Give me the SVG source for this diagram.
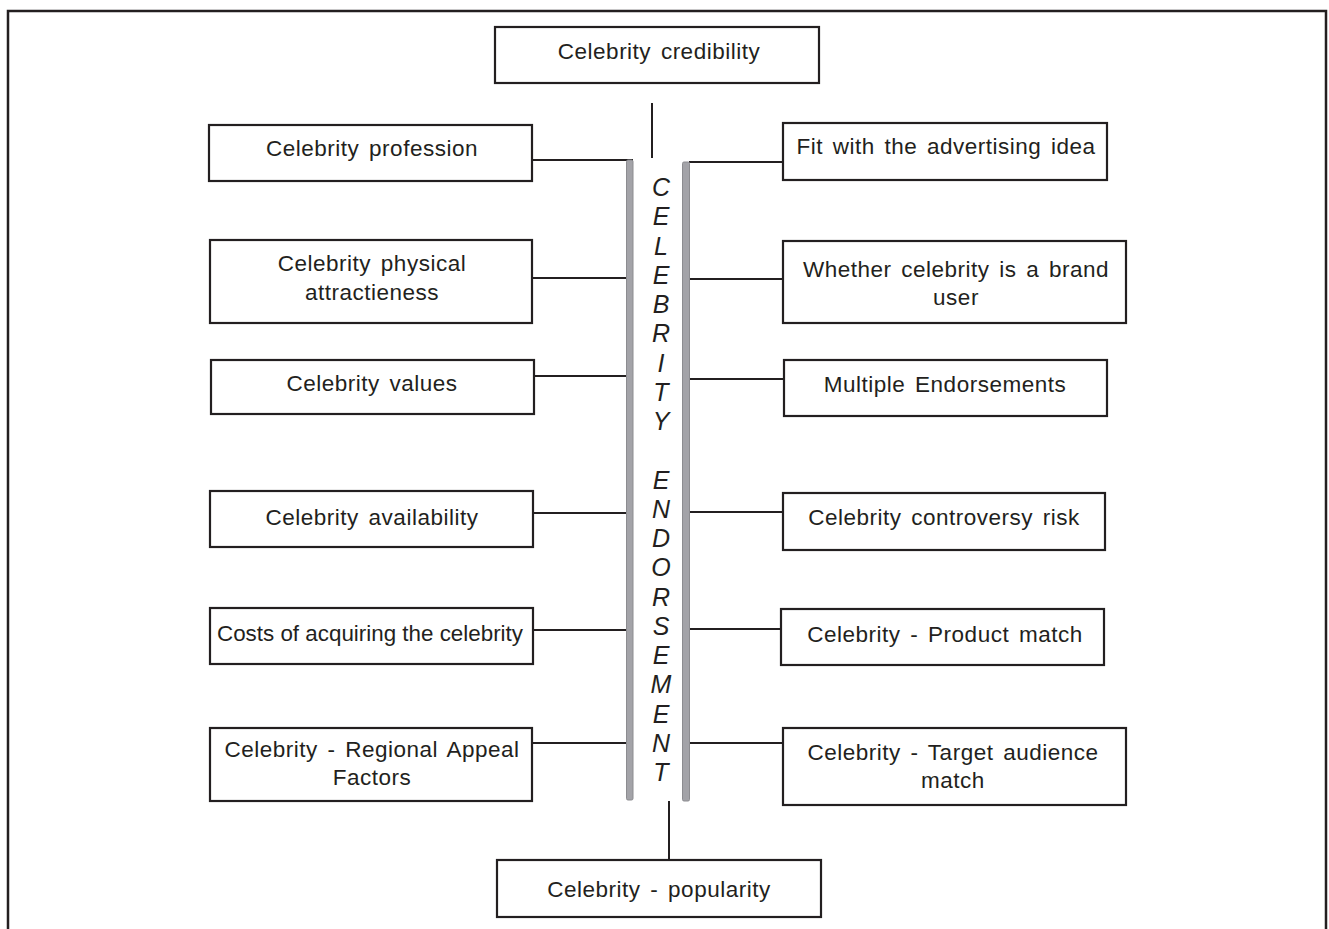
<svg xmlns="http://www.w3.org/2000/svg" width="1329" height="929" viewBox="0 0 1329 929">
<style>
.box{fill:#fff;stroke:#231f20;stroke-width:2.2}
.t{font-family:"Liberation Sans",Arial,sans-serif;font-size:22.5px;fill:#231f20;text-anchor:middle;word-spacing:3px;letter-spacing:0.5px}
.v{font-family:"Liberation Sans",Arial,sans-serif;font-size:25px;font-style:italic;fill:#231f20;text-anchor:middle}
.c{stroke:#231f20;stroke-width:2;fill:none}
.bar{fill:#a3a3a8;stroke:#8c8c90;stroke-width:1}
</style>
<rect width="1329" height="929" fill="#fff"/>
<path d="M8 929 V11 H1326 V929" fill="none" stroke="#231f20" stroke-width="2.5"/>
<g id="connectors">
<line class="c" x1="652" y1="103" x2="652" y2="158"/>
<line class="c" x1="669" y1="801" x2="669" y2="859"/>
<line class="c" x1="532" y1="160" x2="633" y2="160"/>
<line class="c" x1="532" y1="278" x2="627" y2="278"/>
<line class="c" x1="534" y1="376" x2="627" y2="376"/>
<line class="c" x1="533" y1="513" x2="627" y2="513"/>
<line class="c" x1="533" y1="630" x2="627" y2="630"/>
<line class="c" x1="532" y1="743" x2="627" y2="743"/>
<line class="c" x1="689" y1="162" x2="783" y2="162"/>
<line class="c" x1="689" y1="279" x2="783" y2="279"/>
<line class="c" x1="689" y1="379" x2="784" y2="379"/>
<line class="c" x1="689" y1="512" x2="783" y2="512"/>
<line class="c" x1="689" y1="629" x2="781" y2="629"/>
<line class="c" x1="689" y1="743" x2="783" y2="743"/>
</g>
<g id="spine">
<rect class="bar" x="626.5" y="160" width="6.5" height="640" rx="1.5"/>
<rect class="bar" x="682.5" y="162" width="7" height="639" rx="1.5"/>
<g class="v">
<text x="661" y="196">C</text>
<text x="661" y="225.25">E</text>
<text x="661" y="254.5">L</text>
<text x="661" y="283.75">E</text>
<text x="661" y="313">B</text>
<text x="661" y="342.25">R</text>
<text x="661" y="371.5">I</text>
<text x="661" y="400.75">T</text>
<text x="661" y="430">Y</text>
<text x="661" y="488.5">E</text>
<text x="661" y="517.75">N</text>
<text x="661" y="547">D</text>
<text x="661" y="576.25">O</text>
<text x="661" y="605.5">R</text>
<text x="661" y="634.75">S</text>
<text x="661" y="664">E</text>
<text x="661" y="693.25">M</text>
<text x="661" y="722.5">E</text>
<text x="661" y="751.75">N</text>
<text x="661" y="781">T</text>
</g>
</g>
<g id="credibility"><rect class="box" x="495" y="27" width="324" height="56"/><text class="t" x="659" y="59">Celebrity credibility</text></g>
<g id="profession"><rect class="box" x="209" y="125" width="323" height="56"/><text class="t" x="372" y="156">Celebrity profession</text></g>
<g id="physical"><rect class="box" x="210" y="240" width="322" height="83"/><text class="t" x="372" y="271">Celebrity physical</text><text class="t" x="372" y="300">attractieness</text></g>
<g id="values"><rect class="box" x="211" y="360" width="323" height="54"/><text class="t" x="372" y="391">Celebrity values</text></g>
<g id="availability"><rect class="box" x="210" y="491" width="323" height="56"/><text class="t" x="372" y="525">Celebrity availability</text></g>
<g id="costs"><rect class="box" x="210" y="608" width="323" height="56"/><text class="t" x="370" y="641" textLength="306" lengthAdjust="spacingAndGlyphs" style="word-spacing:0;letter-spacing:0">Costs of acquiring the celebrity</text></g>
<g id="regional"><rect class="box" x="210" y="728" width="322" height="73"/><text class="t" x="372" y="757">Celebrity - Regional Appeal</text><text class="t" x="372" y="785">Factors</text></g>
<g id="fit"><rect class="box" x="783" y="123" width="324" height="57"/><text class="t" x="946" y="154">Fit with the advertising idea</text></g>
<g id="brand-user"><rect class="box" x="783" y="241" width="343" height="82"/><text class="t" x="956" y="277">Whether celebrity is a brand</text><text class="t" x="956" y="305">user</text></g>
<g id="multiple"><rect class="box" x="784" y="360" width="323" height="56"/><text class="t" x="945" y="392">Multiple Endorsements</text></g>
<g id="controversy"><rect class="box" x="783" y="493" width="322" height="57"/><text class="t" x="944" y="525">Celebrity controversy risk</text></g>
<g id="product"><rect class="box" x="781" y="609" width="323" height="56"/><text class="t" x="945" y="642">Celebrity - Product match</text></g>
<g id="target"><rect class="box" x="783" y="728" width="343" height="77"/><text class="t" x="953" y="760">Celebrity - Target audience</text><text class="t" x="953" y="788">match</text></g>
<g id="popularity"><rect class="box" x="497" y="860" width="324" height="57"/><text class="t" x="659" y="897">Celebrity - popularity</text></g>
</svg>
